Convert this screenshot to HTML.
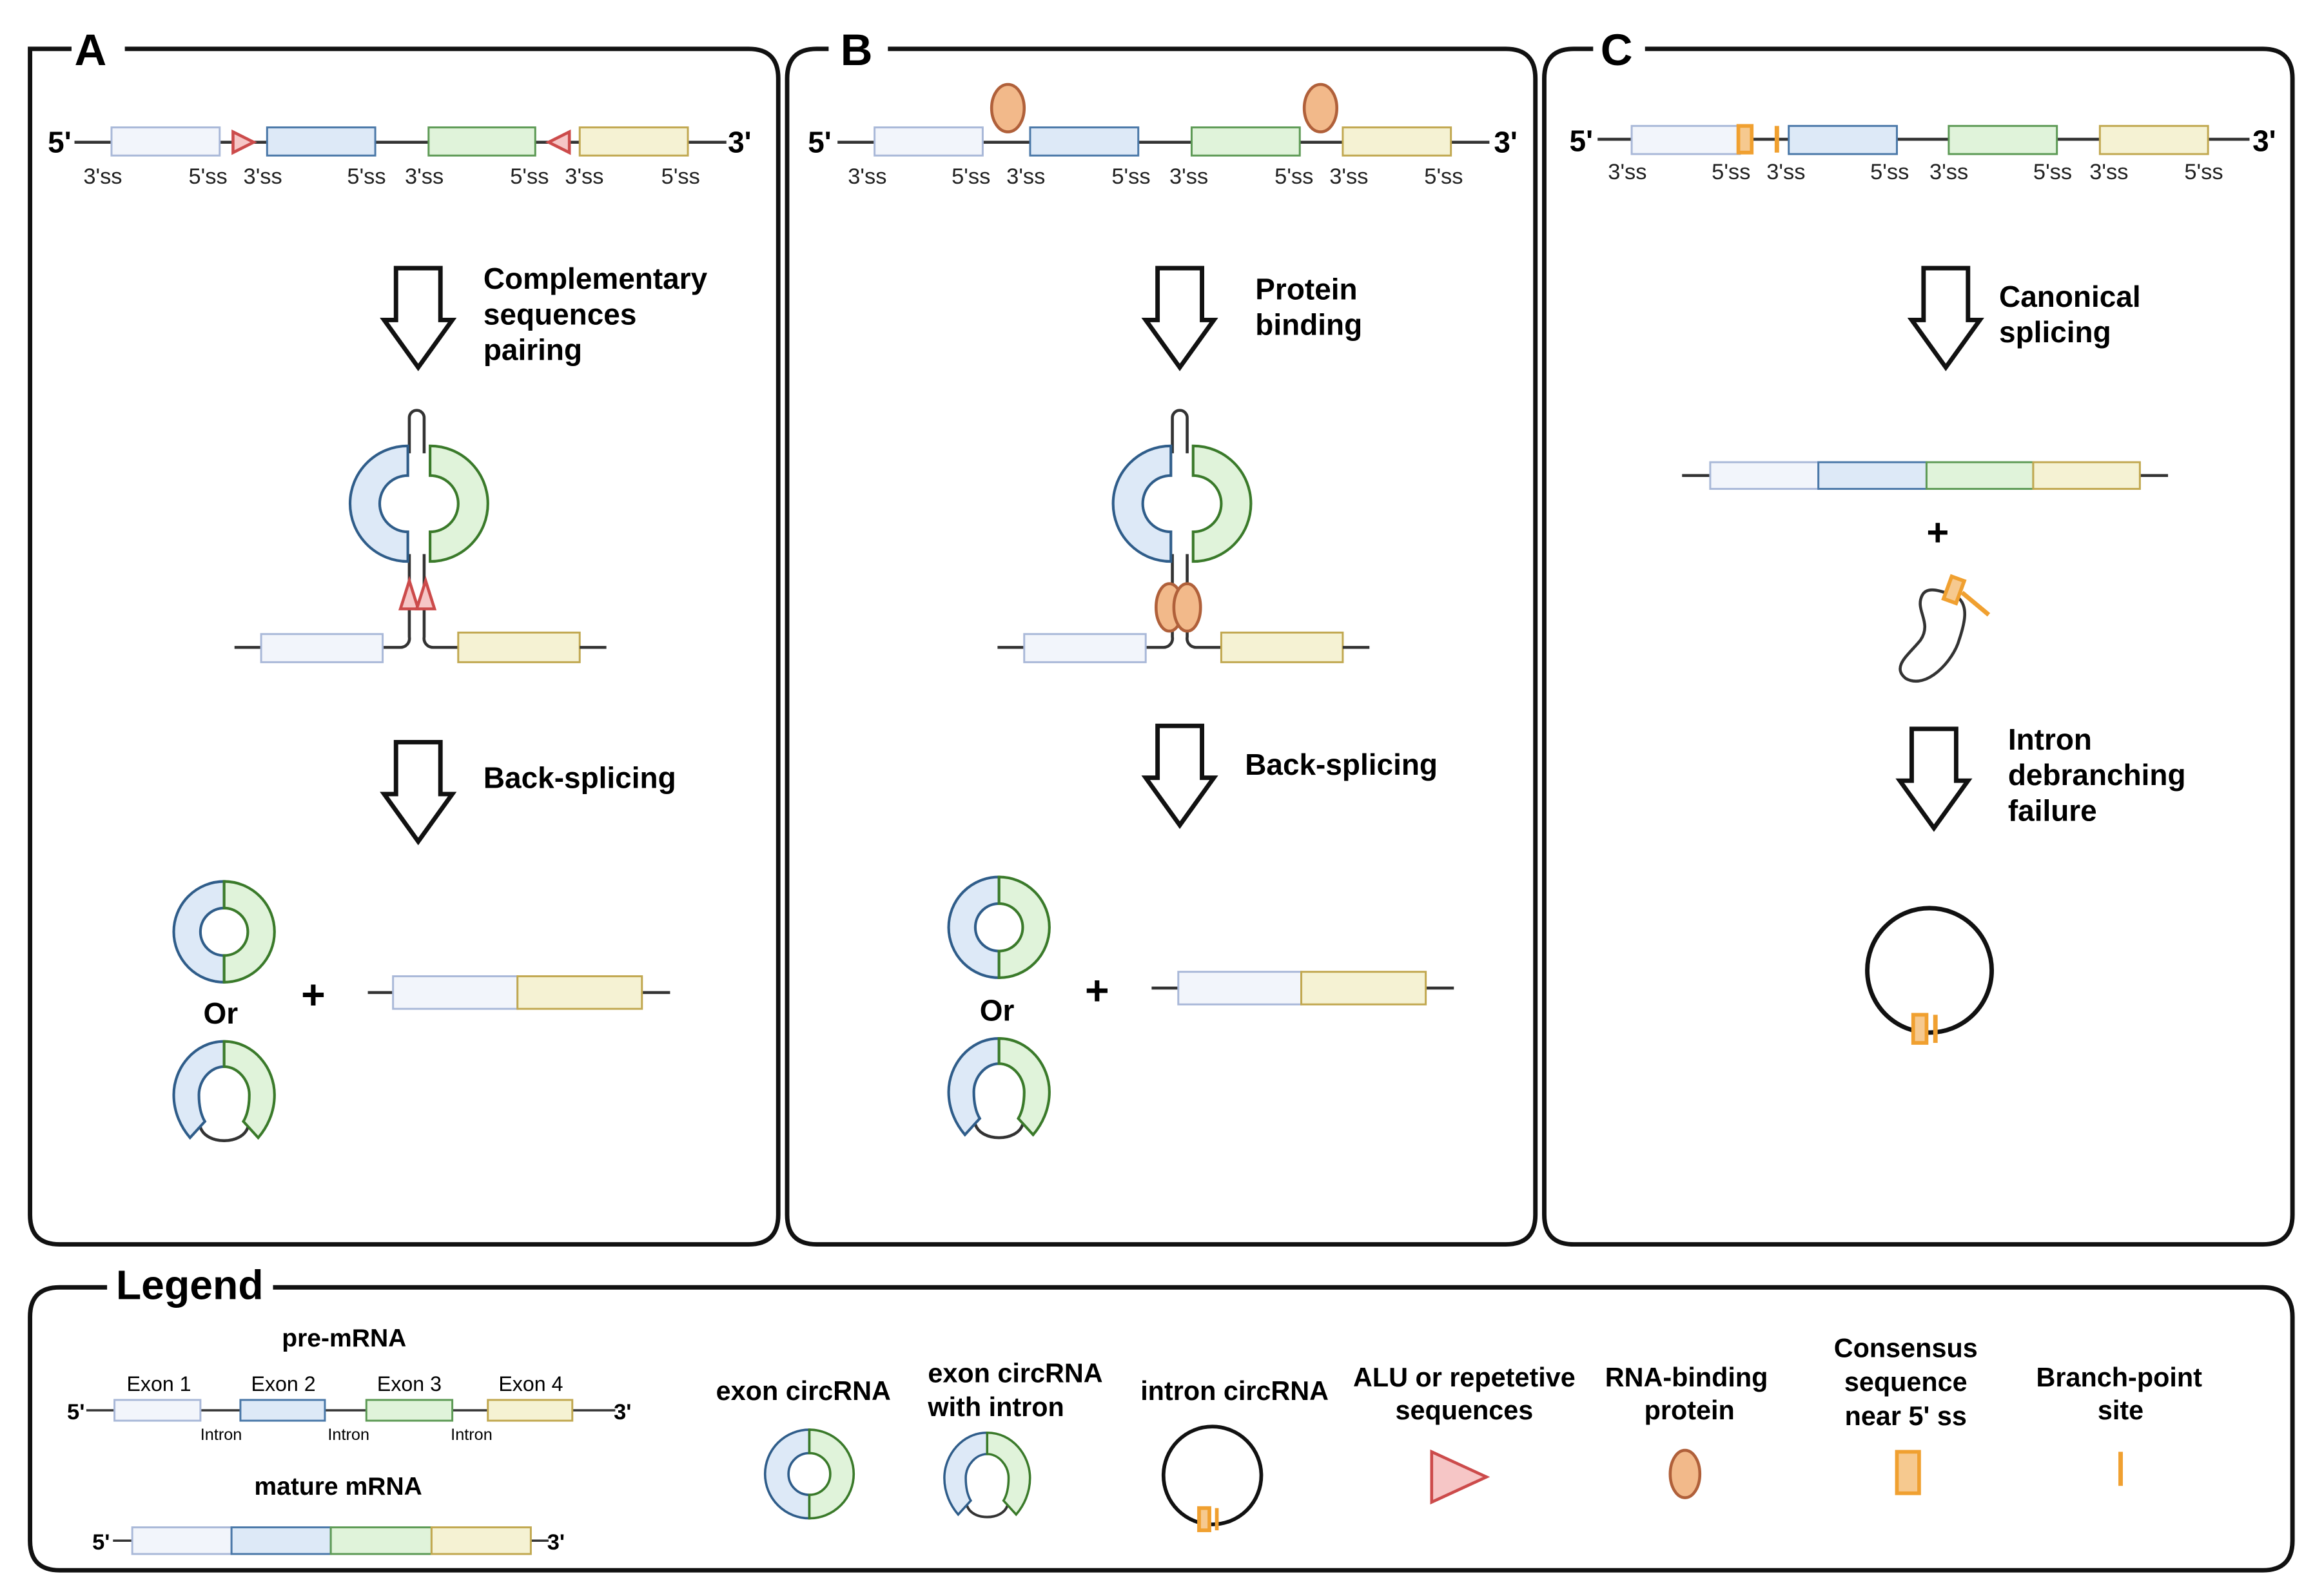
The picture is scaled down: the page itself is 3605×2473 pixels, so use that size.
<!DOCTYPE html>
<html><head><meta charset="utf-8"><style>
html,body{margin:0;padding:0;background:#fff}
svg{display:block}
text{font-family:"Liberation Sans",Arial,sans-serif}
.b{font-weight:bold;font-size:20px}
.ss{font-size:15px;fill:#222}
.e1{fill:#f2f5fb;stroke:#a9b8d8;stroke-width:1.3}
.e2{fill:#dde9f7;stroke:#4a78a8;stroke-width:1.3}
.e3{fill:#e0f3da;stroke:#5d9a55;stroke-width:1.3}
.e4{fill:#f5f2d3;stroke:#c1a850;stroke-width:1.3}
.ln{stroke:#333;stroke-width:2;fill:none}
.box{fill:none;stroke:#111;stroke-width:3}
.arr{fill:#fff;stroke:#111;stroke-width:3;stroke-linejoin:miter}
.rb{fill:#dde9f7;stroke:#2f5d8a;stroke-width:1.8}
.rg{fill:#e0f3da;stroke:#3a7a2a;stroke-width:1.8}
.tri{fill:#f6c6c6;stroke:#cc4b4b;stroke-width:2}
.prot{fill:#f2b98a;stroke:#b0603a;stroke-width:2}
.or{fill:#f6c98f;stroke:#f0a030;stroke-width:2.5}
</style></head><body>
<svg width="3605" height="2473" viewBox="0 0 1568 1076" xmlns="http://www.w3.org/2000/svg">
<defs>
<g id="ring">
<path class="rb" d="M0,-34 A34,34 0 0 0 0,34 L0,16 A16,16 0 0 1 0,-16 Z"/>
<path class="rg" d="M0,-34 A34,34 0 0 1 0,34 L0,16 A16,16 0 0 0 0,-16 Z"/>
</g>
<g id="oring">
<path class="ln" d="M-16,24 C-12,36 12,36 16,24"/>
<path class="rb" d="M0,-34 C-20,-34 -34,-16 -34,2 C-34,14 -29,24 -23,31 L-13,20 C-16,15 -17,8 -17,2 C-17,-8 -9,-17 0,-17 Z"/>
<path class="rg" d="M0,-34 C20,-34 34,-16 34,2 C34,14 29,24 23,31 L13,20 C16,15 17,8 17,2 C17,-8 9,-17 0,-17 Z"/>
</g>
<g id="hair">
<path class="ln" d="M-6,306 L-6,282 A5,5 0 0 1 4,282 L4,306"/>
<path class="ln" d="M-6,374 L-6,430 A6,6 0 0 1 -12,437 L-24,437"/>
<path class="ln" d="M4,374 L4,430 A6,6 0 0 0 10,437 L27,437"/>
<path class="rb" d="M-7,301 A39,39 0 0 0 -7,379 L-7,359 A19,19 0 0 1 -7,321 Z"/>
<path class="rg" d="M8,301 A39,39 0 0 1 8,379 L8,359 A19,19 0 0 0 8,321 Z"/>
<line class="ln" x1="-124" y1="437" x2="-106" y2="437"/>
<rect class="e1" x="-106" y="428" width="82" height="19"/>
<rect class="e4" x="27" y="427" width="82" height="20"/>
<line class="ln" x1="109" y1="437" x2="127" y2="437"/>
</g>
<path id="barrow" d="M-15,0 L15,0 L15,35 L23,35 L0,67 L-23,35 L-15,35 Z"/>
</defs>

<!-- panels -->
<path class="box" d="M48,33 L20,33 Q20,33 20,53 L20,820 Q20,840 40,840 L505,840 Q525,840 525,820 L525,53 Q525,33 505,33 L84,33"/>
<text x="50" y="44" style="font-size:30px;font-weight:bold">A</text>
<path class="box" d="M559,33 L551,33 Q531,33 531,53 L531,820 Q531,840 551,840 L1016,840 Q1036,840 1036,820 L1036,53 Q1036,33 1016,33 L599,33"/>
<text x="567" y="44" style="font-size:30px;font-weight:bold">B</text>
<path class="box" d="M1075,33 L1062,33 Q1042,33 1042,53 L1042,820 Q1042,840 1062,840 L1527,840 Q1547,840 1547,820 L1547,53 Q1547,33 1527,33 L1110,33"/>
<text x="1080" y="44" style="font-size:30px;font-weight:bold">C</text>

<!-- Panel A -->
<line class="ln" x1="50" y1="96" x2="490" y2="96"/>
<rect class="e1" x="75" y="86" width="73" height="19"/>
<rect class="e2" x="180" y="86" width="73" height="19"/>
<rect class="e3" x="289" y="86" width="72" height="19"/>
<rect class="e4" x="391" y="86" width="73" height="19"/>
<path class="tri" d="M157,89 L171,96 L157,103 Z"/>
<path class="tri" d="M384,89 L370,96 L384,103 Z"/>
<text x="32" y="103" class="b">5'</text><text x="491" y="103" class="b">3'</text>
<g class="ss"><text x="56" y="124">3'ss</text><text x="127" y="124">5'ss</text><text x="164" y="124">3'ss</text><text x="234" y="124">5'ss</text><text x="273" y="124">3'ss</text><text x="344" y="124">5'ss</text><text x="381" y="124">3'ss</text><text x="446" y="124">5'ss</text></g>
<use href="#barrow" class="arr" transform="translate(282,181)"/>
<text class="b" x="326" y="195">Complementary</text><text class="b" x="326" y="219">sequences</text><text class="b" x="326" y="243">pairing</text>
<use href="#hair" transform="translate(282,0)"/>
<path class="tri" d="M270,411 L276,392 L282,411 Z"/>
<path class="tri" d="M281,411 L287,392 L293,411 Z"/>
<use href="#barrow" class="arr" transform="translate(282,501)"/>
<text class="b" x="326" y="532">Back-splicing</text>
<use href="#ring" transform="translate(151,629)"/>
<text class="b" x="137" y="691">Or</text>
<use href="#oring" transform="translate(151,737)"/>
<text x="203" y="681" style="font-size:28px;font-weight:bold">+</text>
<line class="ln" x1="248" y1="670" x2="452" y2="670"/>
<rect class="e1" x="265" y="659" width="84" height="22"/>
<rect class="e4" x="349" y="659" width="84" height="22"/>

<!-- Panel B -->
<line class="ln" x1="565" y1="96" x2="1005" y2="96"/>
<rect class="e1" x="590" y="86" width="73" height="19"/>
<rect class="e2" x="695" y="86" width="73" height="19"/>
<rect class="e3" x="804" y="86" width="73" height="19"/>
<rect class="e4" x="906" y="86" width="73" height="19"/>
<ellipse class="prot" cx="680" cy="73" rx="11" ry="16"/>
<ellipse class="prot" cx="891" cy="73" rx="11" ry="16"/>
<text x="545" y="103" class="b">5'</text><text x="1008" y="103" class="b">3'</text>
<g class="ss"><text x="572" y="124">3'ss</text><text x="642" y="124">5'ss</text><text x="679" y="124">3'ss</text><text x="750" y="124">5'ss</text><text x="789" y="124">3'ss</text><text x="860" y="124">5'ss</text><text x="897" y="124">3'ss</text><text x="961" y="124">5'ss</text></g>
<use href="#barrow" class="arr" transform="translate(796,181)"/>
<text class="b" x="847" y="202">Protein</text><text class="b" x="847" y="226">binding</text>
<use href="#hair" transform="translate(797,0)"/>
<ellipse class="prot" cx="789" cy="410" rx="9" ry="16"/>
<ellipse class="prot" cx="801" cy="410" rx="9" ry="16"/>
<use href="#barrow" class="arr" transform="translate(796,490)"/>
<text class="b" x="840" y="523">Back-splicing</text>
<use href="#ring" transform="translate(674,626)"/>
<text class="b" x="661" y="689">Or</text>
<use href="#oring" transform="translate(674,735)"/>
<text x="732" y="678" style="font-size:28px;font-weight:bold">+</text>
<line class="ln" x1="777" y1="667" x2="981" y2="667"/>
<rect class="e1" x="795" y="656" width="83" height="22"/>
<rect class="e4" x="878" y="656" width="84" height="22"/>

<!-- Panel C -->
<line class="ln" x1="1078" y1="94" x2="1518" y2="94"/>
<rect class="e1" x="1101" y="85" width="73" height="19"/>
<rect class="e2" x="1207" y="85" width="73" height="19"/>
<rect class="e3" x="1315" y="85" width="73" height="19"/>
<rect class="e4" x="1417" y="85" width="73" height="19"/>
<rect class="or" x="1173" y="85" width="9" height="18"/>
<line x1="1199" y1="85" x2="1199" y2="103" stroke="#f0a030" stroke-width="3"/>
<text x="1059" y="102" class="b">5'</text><text x="1520" y="102" class="b">3'</text>
<g class="ss"><text x="1085" y="121">3'ss</text><text x="1155" y="121">5'ss</text><text x="1192" y="121">3'ss</text><text x="1262" y="121">5'ss</text><text x="1302" y="121">3'ss</text><text x="1372" y="121">5'ss</text><text x="1410" y="121">3'ss</text><text x="1474" y="121">5'ss</text></g>
<use href="#barrow" class="arr" transform="translate(1313,181)"/>
<text class="b" x="1349" y="207">Canonical</text><text class="b" x="1349" y="231">splicing</text>
<line class="ln" x1="1135" y1="321" x2="1463" y2="321"/>
<rect class="e1" x="1154" y="312" width="73" height="18"/>
<rect class="e2" x="1227" y="312" width="73" height="18"/>
<rect class="e3" x="1300" y="312" width="72" height="18"/>
<rect class="e4" x="1372" y="312" width="72" height="18"/>
<text x="1300" y="368" style="font-size:26px;font-weight:bold">+</text>
<path class="ln" d="M1318,402 C1308,398 1300,396 1297,402 C1292,412 1304,420 1296,432 C1288,442 1276,450 1286,458 C1300,466 1318,446 1322,432 C1326,420 1328,410 1322,404"/>
<line x1="1324" y1="400" x2="1342" y2="415" stroke="#f0a030" stroke-width="3"/>
<rect class="or" x="1314" y="390" width="9" height="16" transform="rotate(20 1318 398)"/>
<use href="#barrow" class="arr" transform="translate(1305,492)"/>
<text class="b" x="1355" y="506">Intron</text><text class="b" x="1355" y="530">debranching</text><text class="b" x="1355" y="554">failure</text>
<circle cx="1302" cy="655" r="42" fill="none" stroke="#111" stroke-width="3"/>
<rect class="or" x="1291" y="685" width="9" height="19"/>
<line x1="1306" y1="685" x2="1306" y2="704" stroke="#f0a030" stroke-width="3"/>

<!-- Legend -->
<path class="box" d="M72,869 L40,869 Q20,869 20,889 L20,1040 Q20,1060 40,1060 L1527,1060 Q1547,1060 1547,1040 L1547,889 Q1547,869 1527,869 L184,869"/>
<text x="78" y="877" style="font-size:28px;font-weight:bold">Legend</text>
<text x="232" y="909" text-anchor="middle" style="font-size:17px;font-weight:bold">pre-mRNA</text>
<g style="font-size:14px" text-anchor="middle"><text x="107" y="939">Exon 1</text><text x="191" y="939">Exon 2</text><text x="276" y="939">Exon 3</text><text x="358" y="939">Exon 4</text></g>
<line class="ln" x1="58" y1="952" x2="415" y2="952" style="stroke-width:1.5"/>
<rect class="e1" x="77" y="945" width="58" height="14"/>
<rect class="e2" x="162" y="945" width="57" height="14"/>
<rect class="e3" x="247" y="945" width="58" height="14"/>
<rect class="e4" x="329" y="945" width="57" height="14"/>
<text x="45" y="958" style="font-size:15px;font-weight:bold">5'</text><text x="414" y="958" style="font-size:15px;font-weight:bold">3'</text>
<g style="font-size:11px" text-anchor="middle"><text x="149" y="972">Intron</text><text x="235" y="972">Intron</text><text x="318" y="972">Intron</text></g>
<text x="228" y="1009" text-anchor="middle" style="font-size:17px;font-weight:bold">mature mRNA</text>
<text x="62" y="1046" style="font-size:15px;font-weight:bold">5'</text>
<line class="ln" x1="76" y1="1040" x2="370" y2="1040" style="stroke-width:1.5"/>
<rect class="e1" x="89" y="1031" width="67" height="18"/>
<rect class="e2" x="156" y="1031" width="67" height="18"/>
<rect class="e3" x="223" y="1031" width="68" height="18"/>
<rect class="e4" x="291" y="1031" width="67" height="18"/>
<text x="369" y="1046" style="font-size:15px;font-weight:bold">3'</text>
<g style="font-size:18px;font-weight:bold" text-anchor="middle">
<text x="542" y="945">exon circRNA</text>
<text x="685" y="933">exon circRNA</text><text x="672" y="956">with intron</text>
<text x="833" y="945">intron circRNA</text>
<text x="988" y="936">ALU or repetetive</text><text x="988" y="958">sequences</text>
<text x="1138" y="936">RNA-binding</text><text x="1140" y="958">protein</text>
<text x="1286" y="916">Consensus</text><text x="1286" y="939">sequence</text><text x="1286" y="962">near 5' ss</text>
<text x="1430" y="936">Branch-point</text><text x="1431" y="958">site</text>
</g>
<use href="#ring" transform="translate(546,995) scale(0.88)"/>
<use href="#oring" transform="translate(666,996) scale(0.85)"/>
<circle cx="818" cy="996" r="33" fill="none" stroke="#111" stroke-width="2.5"/>
<rect class="or" x="809" y="1018" width="7" height="15"/>
<line x1="821" y1="1018" x2="821" y2="1033" stroke="#f0a030" stroke-width="2.5"/>
<path class="tri" d="M966,980 L1003,997 L966,1014 Z"/>
<ellipse class="prot" cx="1137" cy="995" rx="10" ry="16"/>
<rect class="or" x="1280" y="980" width="15" height="28"/>
<line x1="1431" y1="980" x2="1431" y2="1003" stroke="#f0a030" stroke-width="3"/>
</svg>
</body></html>
